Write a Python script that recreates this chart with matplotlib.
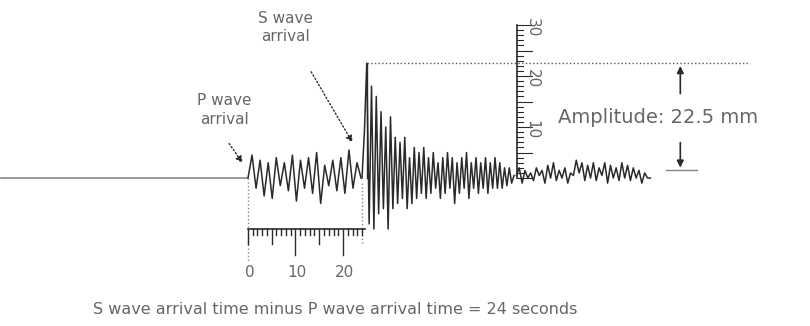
import matplotlib.pyplot as plt

# seismogram: time in seconds after P arrival, amplitude in mm
pre_t = [-52, 0]
pre_amp = [0, 0]

p_dt = 0.85
p_amp = [0, 4.5, -2, 3.5, -3.5, 3, -4, 4, -1.5, 3, -2.5, 4.5, -4.5, 3.5, -2,
         4, -3, 5, -5, 2.5, -1.5, 3.5, -2.5, 4, -3, 5.5, -2, 3, 0]

s_start = 24.0
s_dt = 0.5
s_amp = [0, 9, 22.5, -9, 18, -10, 16, -7, 13, -6, 10, -10, 12, -6, 8, -5,
         7, -4, 8, -6, 4, -5, 6, -4, 5, -3, 6, -4, 4, -3, 5, -2, 3, -4, 4, -3,
         5, -2, 4, -5, 3, -3, 4, -2, 5, -4, 3, -2, 4, -3, 3, -2, 4, -3, 3, -2,
         4, -2, 3, -2, 2, -1.5, 2, -1, 0.5]

coda_start = 56.5
coda_dt = 0.6
coda_amp = [0.5, 2, -1, 1.5, 0, 1, -0.5, 2, 0.5, 1.5, -1, 2.5, 0, 3, -0.5,
            1.5, 0, 2, -1, 1, 0.5, 3.5, 1, 3, -0.5, 2.5, 0, 3, -0.5, 2, 0.5,
            3, -1, 2.5, 0, 2, -0.5, 3, 0, 2.5, -0.5, 2, 0, 1.5, -1, 1, 0, 0]

sp_interval = 24          # seconds
amplitude = 22.5          # mm
ruler_t = 56.6            # time where the amplitude ruler stands
amp_ticks = [10, 20, 30]
time_ticks = [0, 10, 20]

fig = plt.figure(figsize=(8.1, 3.26), dpi=100)
ax = fig.add_axes([0, 0, 1, 1])
ax.set_xlim(-52.2, 118.3)
ax.set_ylim(-29.0, 34.9)
ax.axis('off')

ink = '#2a2a2a'
txt = '#666666'

# trace
ax.plot(pre_t, pre_amp, color='#888888', lw=1.2)
ax.plot([i * p_dt for i in range(len(p_amp))], p_amp, color=ink, lw=1.1)
ax.plot([s_start + i * s_dt for i in range(len(s_amp))], s_amp, color=ink,
        lw=1.1)
ax.plot([coda_start + i * coda_dt for i in range(len(coda_amp))], coda_amp,
        color=ink, lw=1.1)

# time ruler under the P-S interval
ax.plot([0, 0], [0, -16.5], color='#888888', lw=1, ls=':')
ax.plot([sp_interval, sp_interval], [-1, -13], color='#888888', lw=1, ls=':')
ax.plot([0, sp_interval + 0.6], [-10, -10], color=ink, lw=1.2)
for s in range(0, sp_interval + 1):
    if s % 10 == 0 and s > 0:
        ln = 5
    elif s % 5 == 0:
        ln = 3
    else:
        ln = 1.2
    ax.plot([s, s], [-10, -10 - ln], color=ink, lw=1)
for s in time_ticks:
    ax.text(s + 0.3, -18.5, str(s), ha='center', va='center', fontsize=11,
            color=txt)

# vertical S line and peak level
ax.plot([25, 25], [amplitude, 0], color=ink, lw=1)
ax.plot([25, 105.7], [amplitude, amplitude], color='#555555', lw=1, ls=':')

# amplitude ruler
ax.plot([ruler_t, ruler_t], [0, 30], color=ink, lw=1.2)
for a in range(0, 31):
    ln = 3.2 if a % 5 == 0 else 1.2
    ax.plot([ruler_t, ruler_t + ln], [a, a], color=ink, lw=0.8)
for a in amp_ticks:
    ax.text(ruler_t + 3.2, a - 0.5, str(a), rotation=270, ha='center',
            va='center', fontsize=11, color=txt)

# amplitude arrow
ax.annotate('', xy=(91, amplitude), xytext=(91, 16),
            arrowprops=dict(arrowstyle='-|>', color=ink, lw=1.2))
ax.annotate('', xy=(91, 1.5), xytext=(91, 7.5),
            arrowprops=dict(arrowstyle='-|>', color=ink, lw=1.2))
ax.plot([88, 94.5], [1.5, 1.5], color='#888888', lw=1)
ax.text(65.3, 11.8, 'Amplitude: 22.5 mm', ha='left', va='center',
        fontsize=14, color=txt)

# labels with dotted arrows
ax.text(8, 29.5, 'S wave\narrival', ha='center', va='center', fontsize=11,
        color=txt, linespacing=1.3)
ax.annotate('', xy=(22.3, 6.5), xytext=(13, 21.3),
            arrowprops=dict(arrowstyle='-|>', color=ink, lw=1, ls=':'))
ax.text(-5, 13.3, 'P wave\narrival', ha='center', va='center', fontsize=11,
        color=txt, linespacing=1.3)
ax.annotate('', xy=(-0.8, 2.5), xytext=(-4.3, 7.2),
            arrowprops=dict(arrowstyle='-|>', color=ink, lw=1, ls=':'))

ax.text(18.3, -25.8, 'S wave arrival time minus P wave arrival time = 24 seconds',
        ha='center', va='center', fontsize=11.5, color=txt)

fig.savefig('out.png', dpi=100)
